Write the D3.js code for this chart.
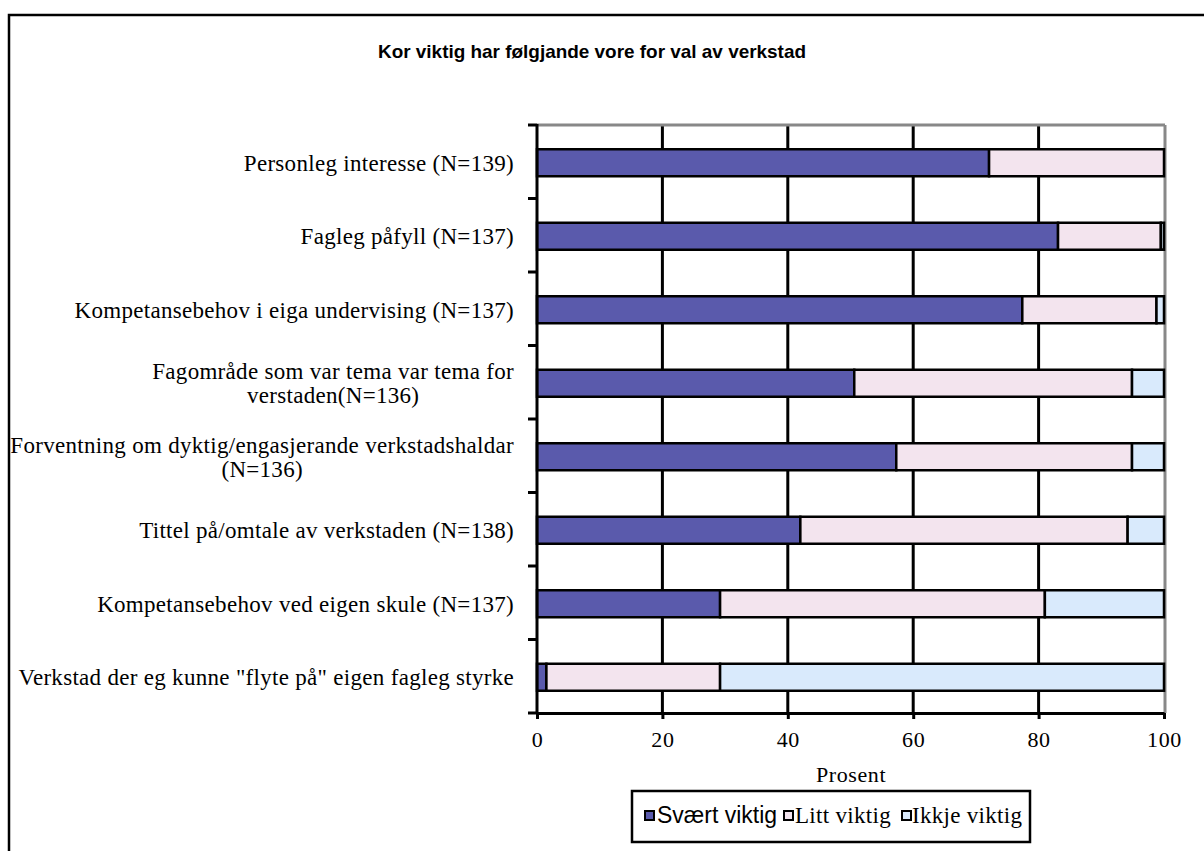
<!DOCTYPE html>
<html>
<head>
<meta charset="utf-8">
<script src="https://cdn.jsdelivr.net/npm/d3@7"></script>
<style>
  html, body { margin: 0; padding: 0; background: #fff; }
  svg { display: block; }
</style>
</head>
<body>
<svg id="chart" width="1204" height="851"></svg>
<script>
const title = "Kor viktig har følgjande vore for val av verkstad";
const categories = [
  ["Personleg interesse (N=139)"],
  ["Fagleg påfyll (N=137)"],
  ["Kompetansebehov i eiga undervising (N=137)"],
  ["Fagområde som var tema var tema for", "verstaden(N=136)"],
  ["Forventning om dyktig/engasjerande verkstadshaldar", "(N=136)"],
  ["Tittel på/omtale av verkstaden (N=138)"],
  ["Kompetansebehov ved eigen skule (N=137)"],
  ["Verkstad der eg kunne \"flyte på\" eigen fagleg styrke"]
];
const seriesNames = ["Svært viktig", "Litt viktig", "Ikkje viktig"];
const sværtViktig = [72.1, 83.1, 77.4, 50.6, 57.3, 42.0, 29.2, 1.5];
const littViktig  = [27.9, 16.4, 21.4, 44.3, 37.6, 52.2, 51.8, 27.7];
const ikkjeViktig = [0.0, 0.5, 1.2, 5.1, 5.1, 5.8, 19.0, 70.8];
const xTicks = [0, 20, 40, 60, 80, 100];
const xTitle = "Prosent";
const colors = ["#5a5aac", "#f3e4ee", "#d9eafc"];

const serif = "Liberation Serif, Times New Roman, serif";
const sans = "Liberation Sans, Arial, sans-serif";
const fs = 23;
const ls = 0.3;

const svg = d3.select("#chart");
const m = {left: 537, right: 1164, top: 125, bottom: 713};

// outer frame
svg.append("rect").attr("x", 9).attr("y", 15).attr("width", 1300).attr("height", 900)
  .attr("fill", "none").attr("stroke", "#000").attr("stroke-width", 2.5);

// title
svg.append("text").attr("x", 592).attr("y", 58).attr("text-anchor", "middle")
  .attr("font-family", sans).attr("font-weight", "bold")
  .attr("font-size", 18.5).attr("textLength", 428).attr("lengthAdjust", "spacingAndGlyphs")
  .text(title);

const x = d3.scaleLinear().domain([0, 100]).range([m.left, m.right]);
const y = d3.scaleBand().domain(d3.range(categories.length)).range([m.top, m.bottom]).paddingInner(0).paddingOuter(0);

// gridlines
svg.append("g").selectAll("line").data(xTicks.filter(t => t > 0 && t < 100)).join("line")
  .attr("x1", d => x(d)).attr("x2", d => x(d)).attr("y1", m.top).attr("y2", m.bottom)
  .attr("stroke", "#000").attr("stroke-width", 3);

// plot top/right border gray
svg.append("line").attr("x1", m.left).attr("x2", m.right + 1).attr("y1", m.top).attr("y2", m.top)
  .attr("stroke", "#888").attr("stroke-width", 3);
svg.append("line").attr("x1", m.right + 1).attr("x2", m.right + 1).attr("y1", m.top).attr("y2", m.bottom)
  .attr("stroke", "#888").attr("stroke-width", 3);

// stacked bars
const rows = categories.map((c, i) => ({i, v: [sværtViktig[i], littViktig[i], ikkjeViktig[i]]}));
const stack = d3.stack().keys([0, 1, 2]).value((d, k) => d.v[k]);
const stacked = stack(rows);
const barH = 27;
stacked.forEach((layer, k) => {
  svg.append("g").selectAll("rect").data(layer).join("rect")
    .attr("x", d => x(d[0]))
    .attr("width", d => Math.max(0, x(d[1]) - x(d[0])))
    .attr("y", (d, i) => y(i) + y.bandwidth() / 2 - barH / 2 + 1)
    .attr("height", barH)
    .attr("fill", colors[k])
    .attr("stroke", d => (d[1] - d[0]) > 0 ? "#000" : "none")
    .attr("stroke-width", 2.5);
});

// x axis
const xAxis = d3.axisBottom(x).tickValues(xTicks).tickSize(6).tickPadding(12).tickSizeOuter(0);
const gx = svg.append("g").attr("transform", `translate(0,${m.bottom})`).call(xAxis);
gx.select(".domain").attr("stroke", "#000").attr("stroke-width", 3);
gx.selectAll(".tick line").attr("stroke", "#000").attr("stroke-width", 3);
gx.selectAll("text").attr("font-family", serif).attr("font-size", 22).attr("letter-spacing", 0.6).attr("fill", "#000");

// y axis with ticks at band boundaries
svg.append("line").attr("x1", m.left).attr("x2", m.left).attr("y1", m.top - 1).attr("y2", m.bottom + 1)
  .attr("stroke", "#000").attr("stroke-width", 3);
const yBounds = d3.range(categories.length + 1).map(i => m.top + i * y.step());
svg.append("g").selectAll("line").data(yBounds).join("line")
  .attr("x1", m.left - 9).attr("x2", m.left).attr("y1", d => d).attr("y2", d => d)
  .attr("stroke", "#000").attr("stroke-width", 3);

// category labels
const labelRight = 514;
const gl = svg.append("g").attr("font-family", serif).attr("font-size", fs).attr("letter-spacing", ls).attr("fill", "#000");
categories.forEach((lines, i) => {
  const cy = y(i) + y.bandwidth() / 2 + 1;
  const g = gl.append("g");
  const texts = lines.map((ln, j) => g.append("text")
    .attr("y", cy + (j - (lines.length - 1) / 2) * 24)
    .attr("dy", "0.35em").text(ln));
  const maxW = d3.max(texts, t => t.node().getComputedTextLength());
  texts.forEach(t => t.attr("x", labelRight - maxW / 2).attr("text-anchor", "middle"));
});

// x title
svg.append("text").attr("x", 851).attr("y", 782).attr("text-anchor", "middle")
  .attr("font-family", serif).attr("font-size", 22).attr("letter-spacing", 0.6)
  .text(xTitle);

// legend
svg.append("rect").attr("x", 632).attr("y", 791).attr("width", 398).attr("height", 51)
  .attr("fill", "#fff").attr("stroke", "#000").attr("stroke-width", 2.5);
const legendItems = [
  {sx: 645, tx: 657, font: sans, lsp: 0},
  {sx: 784, tx: 795, font: serif, lsp: 0.3},
  {sx: 902, tx: 912, font: serif, lsp: 0.3}
];
legendItems.forEach((it, k) => {
  svg.append("rect").attr("x", it.sx).attr("y", 811).attr("width", 9).attr("height", 9)
    .attr("fill", colors[k]).attr("stroke", "#000").attr("stroke-width", 2);
  svg.append("text").attr("x", it.tx).attr("y", 823).attr("font-family", it.font)
    .attr("font-size", 23).attr("letter-spacing", it.lsp).text(seriesNames[k]);
});
</script>
</body>
</html>
